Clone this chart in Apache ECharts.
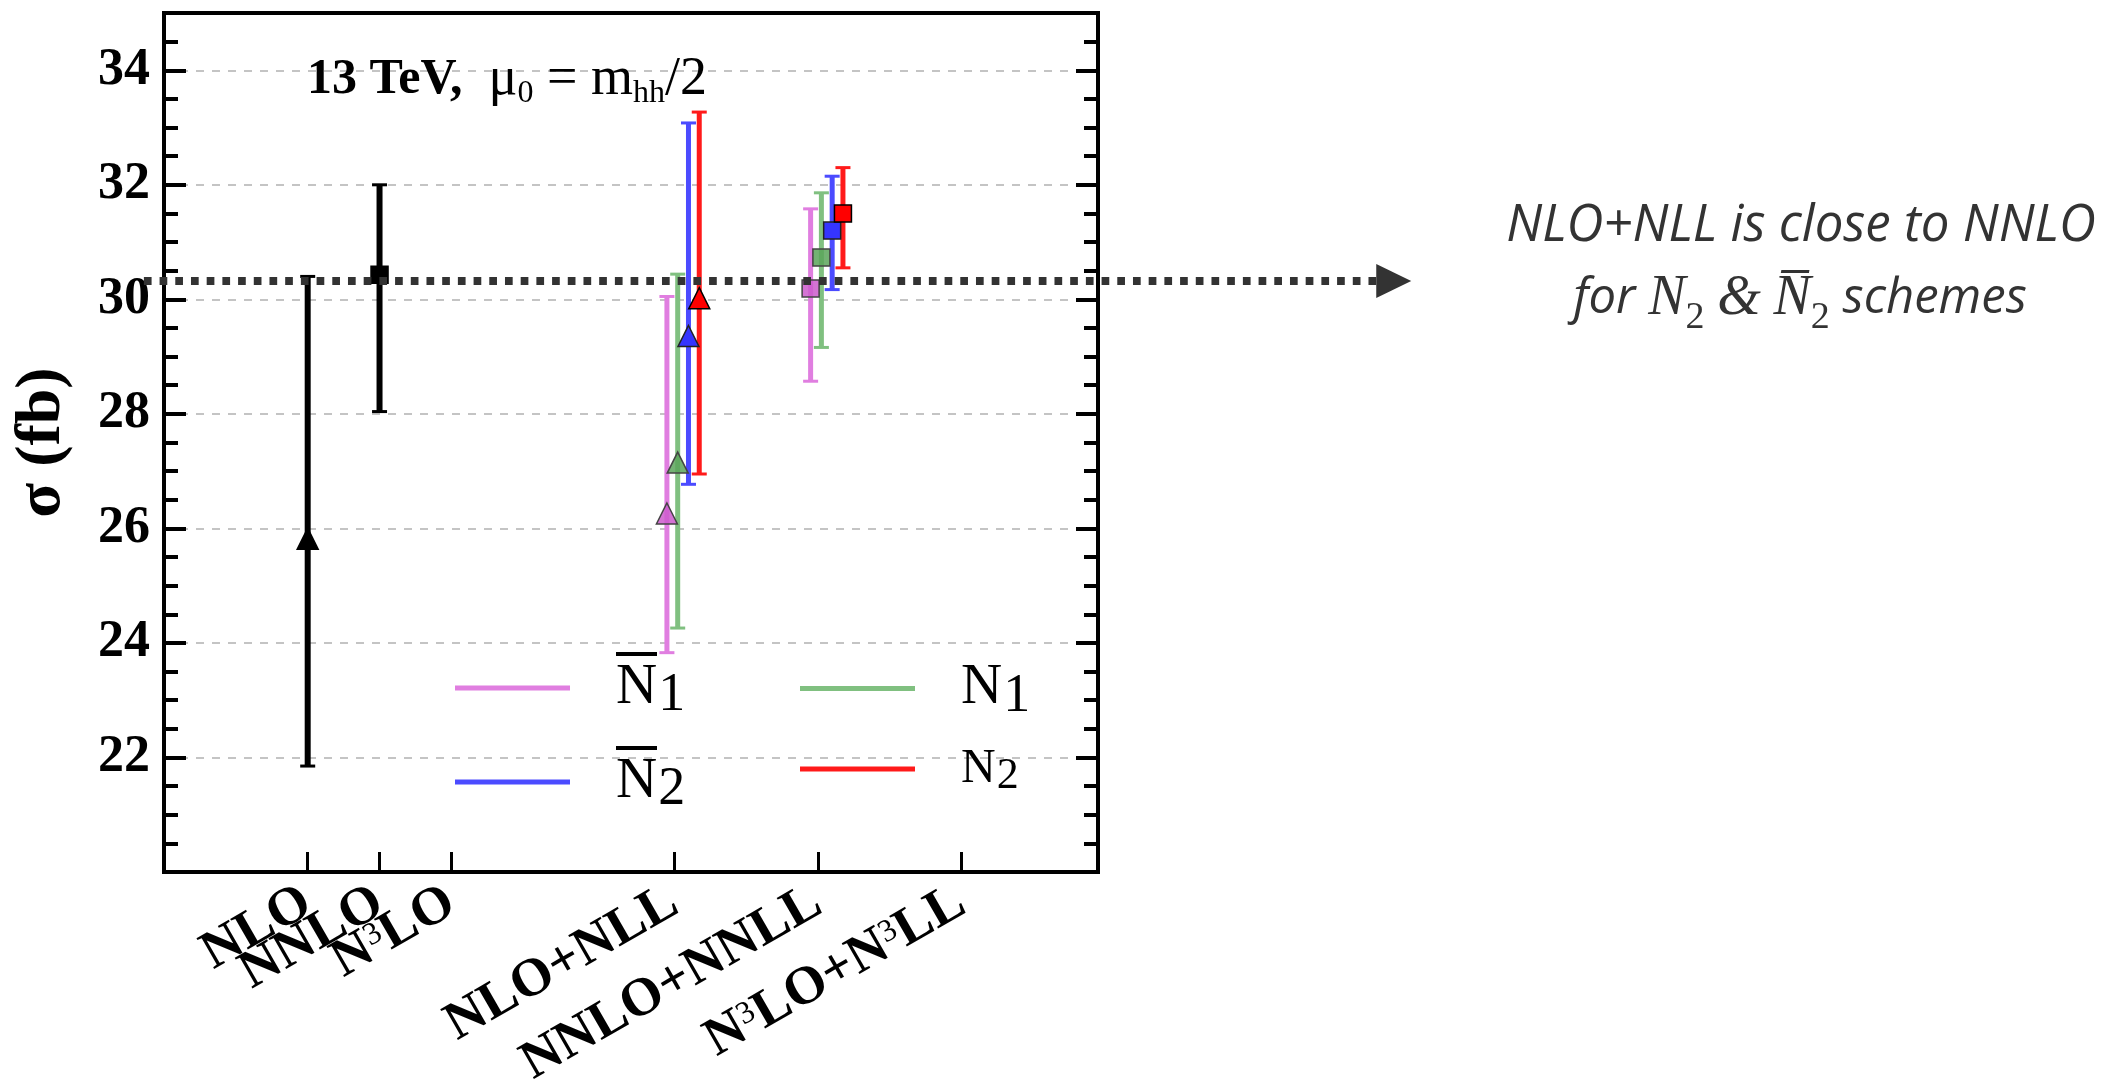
<!DOCTYPE html>
<html><head><meta charset="utf-8">
<script src="https://cdn.jsdelivr.net/npm/echarts@6/dist/echarts.min.js"></script>
<style>html,body{margin:0;padding:0;background:#fff}#c{width:2108px;height:1088px}</style>
</head><body><div id="c"></div>
<script>
// ---- axis data ----
const tickPositions = [2, 3, 4, 7.1, 9.1, 11.1];
const tickLabels = ['NLO', 'NNLO', 'N³LO', 'NLO+NLL', 'NNLO+NNLL', 'N³LO+N³LL'];
const yLabelValues = [22, 24, 26, 28, 30, 32, 34];

// ---- fixed order (black) ----
const xFixed = [2, 3];
const fixedCentral = [25.82, 30.43];
const fixedLow = [21.85, 28.04];
const fixedHigh = [30.40, 32.00];

// ---- resummed: N-bar_1 (violet) ----
const xN1bar = [7.0, 9.0];
const n1barCentral = [26.26, 30.19];
const n1barLow = [23.83, 28.57];
const n1barHigh = [30.05, 31.58];

// ---- N_1 (green) ----
const xN1 = [7.15, 9.15];
const n1Central = [27.15, 30.73];
const n1Low = [24.26, 29.16];
const n1High = [30.44, 31.86];

// ---- N-bar_2 (blue) ----
const xN2bar = [7.3, 9.3];
const n2barCentral = [29.36, 31.20];
const n2barLow = [26.77, 30.17];
const n2barHigh = [33.08, 32.15];

// ---- N_2 (red) ----
const xN2 = [7.45, 9.45];
const n2Central = [30.02, 31.50];
const n2Low = [26.95, 30.55];
const n2High = [33.27, 32.30];

// ---- reference (dotted arrow) ----
const refValue = 30.32;
const refXRange = [-0.28, 17.36];

const SERIF = 'Liberation Serif';
const SANS_I = 'Open Sans';
const chart = echarts.init(document.getElementById('c'));

function errorBars(name, xs, lo, hi, color, width) {
  return {
    type: 'custom', name: name, coordinateSystem: 'cartesian2d', z: 3, silent: true,
    itemStyle: {color: color},
    data: xs.map((x, i) => [x, lo[i], hi[i]]),
    encode: {x: 0, y: [1, 2]},
    renderItem: function (params, api) {
      const x = api.value(0);
      const pLo = api.coord([x, api.value(1)]);
      const pHi = api.coord([x, api.value(2)]);
      const cap = 15;
      return {type: 'group', children: [
        {type: 'line', shape: {x1: pLo[0], y1: pLo[1], x2: pHi[0], y2: pHi[1]}, style: {stroke: color, lineWidth: width}},
        {type: 'line', shape: {x1: pLo[0] - cap / 2, y1: pLo[1], x2: pLo[0] + cap / 2, y2: pLo[1]}, style: {stroke: color, lineWidth: 3}},
        {type: 'line', shape: {x1: pHi[0] - cap / 2, y1: pHi[1], x2: pHi[0] + cap / 2, y2: pHi[1]}, style: {stroke: color, lineWidth: 3}}
      ]};
    }
  };
}
const markerShapes = ['triangle', 'rect'];
const markerSizes = [21, 17];
function markers(name, xs, ys, fill, border) {
  return {
    type: 'scatter', name: name, z: 5, silent: true,
    data: xs.map((x, i) => [x, ys[i]]),
    symbol: (v, p) => markerShapes[p.dataIndex],
    symbolSize: (v, p) => markerSizes[p.dataIndex],
    itemStyle: {color: fill, borderColor: border, borderWidth: 1.5, opacity: 1}
  };
}

const colV = '#e07ee0', colG = '#80c080', colB = '#4b4bff', colR = '#ff1a1a';

function xLabel(v) {
  const s = tickLabels[tickPositions.indexOf(v)] || '';
  return s.split('³').map(p => p ? '{b|' + p + '}' : '').join('{sup|3}');
}

const legendRich = {
  ov: {width: 41, height: 4, lineHeight: 12, backgroundColor: '#000', verticalAlign: 'middle'},
  n: {fontFamily: SERIF, fontWeight: 'normal', fontSize: 57, lineHeight: 56, color: '#000', verticalAlign: 'middle'},
  sub: {fontFamily: SERIF, fontWeight: 'normal', fontSize: 54, lineHeight: 40, height: 40, color: '#000', verticalAlign: 'bottom', padding: [0, 0, 0, 1]},
  sp: {fontSize: 4, lineHeight: 12},
  n2: {fontFamily: SERIF, fontWeight: 'normal', fontSize: 48, lineHeight: 48, color: '#000', verticalAlign: 'middle'},
  sub2: {fontFamily: SERIF, fontWeight: 'normal', fontSize: 44, lineHeight: 34, height: 34, color: '#000', verticalAlign: 'bottom', padding: [0, 0, 0, 1]}
};
function legendOf(name, color, left, top, text) {
  return {
    data: [{name: name, itemStyle: {color: color, borderWidth: 0}}],
    left: left, top: top, padding: 0, icon: 'rect', itemWidth: 115, itemHeight: 5,
    selectedMode: false, formatter: () => text,
    textStyle: {padding: [0, 0, 0, 41], fontFamily: SERIF, fontWeight: 'normal', color: '#000', rich: legendRich}
  };
}

// labels are split over two coincident x axes so that overlapping neighbours are all drawn
const labelSetA = tickPositions.filter((v, i) => i % 2 === 0);
const labelSetB = tickPositions.filter((v, i) => i % 2 === 1);
function xAxisOf(labelValues, showTicks) {
  return {
    type: 'value', min: 0, max: 13, position: 'bottom', gridIndex: 0,
    axisLine: {show: false}, splitLine: {show: false},
    axisTick: {show: showTicks, inside: true, length: 20, customValues: tickPositions, lineStyle: {color: '#000', width: 3}},
    axisLabel: {
      customValues: labelValues, rotate: 30, margin: 27, formatter: xLabel, color: '#000',
      hideOverlap: false, showMinLabel: true, showMaxLabel: true,
      fontFamily: SERIF, fontWeight: 'bold', fontSize: 54,
      rich: {
        b: {fontFamily: SERIF, fontWeight: 'bold', fontSize: 54, lineHeight: 58, color: '#000', verticalAlign: 'middle'},
        sup: {fontFamily: SERIF, fontWeight: 'normal', fontSize: 32, lineHeight: 42, height: 42, color: '#000', verticalAlign: 'top'}
      }
    }
  };
}

const yBase = {type: 'value', min: 20, max: 35, gridIndex: 0, axisLine: {show: false}, splitLine: {show: false}, axisLabel: {show: false}};

const option = {
  backgroundColor: '#ffffff',
  animation: false,
  grid: {left: 164, top: 13, width: 934, height: 859, show: true, borderColor: '#000', borderWidth: 4, containLabel: false, outerBoundsMode: 'none'},
  title: {
    text: '{b|13 TeV,}{gap| }{r|μ}{s|0}{r| = m}{s|hh}{r|/2}',
    left: 307, top: 50, padding: 0,
    textStyle: {fontWeight: 'normal', fontFamily: SERIF, rich: {
      b: {fontFamily: SERIF, fontWeight: 'bold', fontSize: 50, lineHeight: 60, color: '#000', verticalAlign: 'middle'},
      gap: {fontFamily: SERIF, fontSize: 10, width: 26, lineHeight: 10},
      r: {fontFamily: SERIF, fontWeight: 'normal', fontSize: 54, lineHeight: 60, color: '#000', verticalAlign: 'middle'},
      s: {fontFamily: SERIF, fontWeight: 'normal', fontSize: 32, lineHeight: 32, height: 32, color: '#000', verticalAlign: 'bottom'}
    }}
  },
  legend: [
    legendOf('N1bar', colV, 455, 648, '{ov| }\n{n|N}{sub|1}\n{sp| }'),
    legendOf('N1', colG, 800, 660, '{n|N}{sub|1}'),
    legendOf('N2bar', colB, 455, 742, '{ov| }\n{n|N}{sub|2}\n{sp| }'),
    legendOf('N2', colR, 800, 745, '{n2|N}{sub2|2}')
  ],
  xAxis: [xAxisOf(labelSetA, true), xAxisOf(labelSetB, false)],
  yAxis: [
    Object.assign({}, yBase, {
      position: 'left', interval: 2,
      axisTick: {show: true, inside: true, length: 22, customValues: yLabelValues, lineStyle: {color: '#000', width: 4}},
      axisLabel: {show: true, customValues: yLabelValues, margin: 14, color: '#000', fontFamily: SERIF, fontWeight: 'bold', fontSize: 52},
      splitLine: {show: true, lineStyle: {color: '#c4c4c4', width: 2, type: [8, 8]}},
      name: 'σ (fb)', nameLocation: 'middle', nameRotate: 90, nameGap: 90,
      nameTextStyle: {fontFamily: SERIF, fontWeight: 'bold', fontSize: 64, color: '#000'}
    }),
    Object.assign({}, yBase, {position: 'left', interval: 0.5, axisTick: {show: true, inside: true, length: 14, lineStyle: {color: '#000', width: 4}}}),
    Object.assign({}, yBase, {position: 'right', interval: 2, axisTick: {show: true, inside: true, length: 22, customValues: yLabelValues, lineStyle: {color: '#000', width: 4}}}),
    Object.assign({}, yBase, {position: 'right', interval: 0.5, axisTick: {show: true, inside: true, length: 14, lineStyle: {color: '#000', width: 4}}})
  ],
  graphic: [
    {type: 'text', x: 1801, y: 226, style: {text: 'NLO+NLL is close to NNLO', fontFamily: SANS_I, fontStyle: 'italic', fontSize: 51, fill: '#333', align: 'center', verticalAlign: 'middle'}},
    {type: 'text', x: 1800, y: 299, style: {
      text: '{s|for }{n|N}{d|2}{s| }{n|&}{s| }{n|N\u0305}{d|2}{s| schemes}',
      align: 'center', verticalAlign: 'middle',
      rich: {
        s: {fontFamily: SANS_I, fontStyle: 'italic', fontSize: 49, lineHeight: 56, fill: '#333', verticalAlign: 'middle'},
        n: {fontFamily: SERIF, fontStyle: 'italic', fontSize: 56, lineHeight: 56, fill: '#333', verticalAlign: 'middle'},
        d: {fontFamily: SERIF, fontSize: 38, lineHeight: 18, height: 18, fill: '#333', verticalAlign: 'bottom'}
      }
    }}
  ],
  series: [
    errorBars('fixed', xFixed, fixedLow, fixedHigh, '#000', 6),
    markers('fixed', xFixed, fixedCentral, '#000', '#000'),
    errorBars('N1bar', xN1bar, n1barLow, n1barHigh, colV, 5),
    errorBars('N1', xN1, n1Low, n1High, colG, 5),
    errorBars('N2bar', xN2bar, n2barLow, n2barHigh, colB, 5),
    errorBars('N2', xN2, n2Low, n2High, colR, 5),
    markers('N1bar', xN1bar, n1barCentral, 'rgba(205,90,205,0.85)', '#444'),
    markers('N1', xN1, n1Central, 'rgba(90,165,90,0.85)', '#444'),
    markers('N2bar', xN2bar, n2barCentral, '#3535ff', '#222'),
    markers('N2', xN2, n2Central, '#ff0000', '#000'),
    {
      type: 'custom', name: 'reference', coordinateSystem: 'cartesian2d', clip: false, z: 10, silent: true,
      data: [[refXRange[0], refXRange[1], refValue]],
      encode: {x: [0, 1], y: 2},
      renderItem: function (params, api) {
        const p0 = api.coord([api.value(0), api.value(2)]);
        const p1 = api.coord([api.value(1), api.value(2)]);
        const head = 35, half = 17;
        return {type: 'group', children: [
          {type: 'line', shape: {x1: p0[0], y1: p0[1], x2: p1[0] - head, y2: p1[1]}, style: {stroke: '#333', lineWidth: 8, lineDash: [7.7, 8]}},
          {type: 'polygon', shape: {points: [[p1[0] - head, p1[1] - half], [p1[0], p1[1]], [p1[0] - head, p1[1] + half]]}, style: {fill: '#333'}}
        ]};
      }
    }
  ]
};
chart.setOption(option);
</script>
</body></html>
